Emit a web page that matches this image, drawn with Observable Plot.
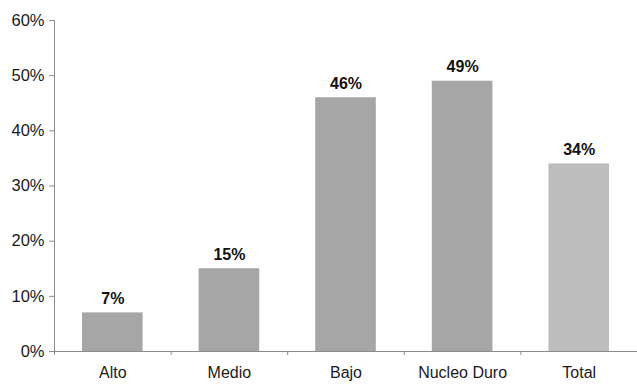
<!DOCTYPE html>
<html>
<head>
<meta charset="utf-8">
<script src="https://cdn.jsdelivr.net/npm/d3@7"></script>
<script src="https://cdn.jsdelivr.net/npm/@observablehq/plot@0.6"></script>
<style>
  html, body { margin: 0; padding: 0; background: #fff; }
  #chart svg { display: block; }
</style>
</head>
<body>
<div id="chart"></div>
<script>
// Share of each group, by segment
const categories = ["Alto", "Medio", "Bajo", "Nucleo Duro", "Total"];
const values = [0.07, 0.15, 0.46, 0.49, 0.34];
const barColors = ["#a6a6a6", "#a6a6a6", "#a6a6a6", "#a6a6a6", "#bdbdbd"];
const yTicks = [0, 0.1, 0.2, 0.3, 0.4, 0.5, 0.6];

// Each category occupies the unit slot [i, i + 1] on a linear x scale
const data = categories.map((name, i) => ({
  name, i, value: values[i], color: barColors[i]
}));

const font = "Liberation Sans, Arial, sans-serif";
const axisColor = "#8c8c8c";
const textColor = "#1a1a1a";

const chart = Plot.plot({
  width: 637,
  height: 384,
  marginTop: 20,
  marginRight: 0,
  marginBottom: 33,
  marginLeft: 54,
  style: { fontFamily: font, fontSize: "16px", color: textColor, background: "#fff" },
  x: { type: "linear", domain: [0, categories.length], label: null },
  y: { domain: [0, 0.6], label: null },
  marks: [
    Plot.rectY(data, {
      x1: "i",
      x2: d => d.i + 1,
      y1: 0,
      y2: "value",
      fill: "color",
      insetLeft: 28,
      insetRight: 28
    }),
    Plot.text(data, {
      x: d => d.i + 0.5,
      y: "value",
      text: d => d3.format(".0%")(d.value),
      lineAnchor: "bottom",
      dy: -9,
      fontWeight: "bold",
      fontSize: 16,
      fill: "#111"
    }),
    // y axis: line, ticks and percent labels
    Plot.ruleX([0], { stroke: axisColor }),
    Plot.axisY({
      ticks: yTicks,
      tickFormat: d3.format(".0%"),
      tickSize: 5,
      tickPadding: 5,
      stroke: axisColor,
      fill: textColor,
      fontSize: 16.5,
      label: null
    }),
    // x axis: baseline, boundary ticks and centred category names
    Plot.ruleY([0], { stroke: axisColor }),
    Plot.axisX({
      ticks: d3.range(categories.length + 1),
      tickFormat: () => "",
      tickSize: 4,
      stroke: axisColor,
      label: null
    }),
    Plot.axisX({
      ticks: categories.map((_, i) => i + 0.5),
      tickFormat: t => categories[Math.floor(t)],
      tickSize: 0,
      tickPadding: 15,
      fill: textColor,
      fontSize: 16,
      label: null
    })
  ]
});

document.getElementById("chart").appendChild(chart);
</script>
</body>
</html>
